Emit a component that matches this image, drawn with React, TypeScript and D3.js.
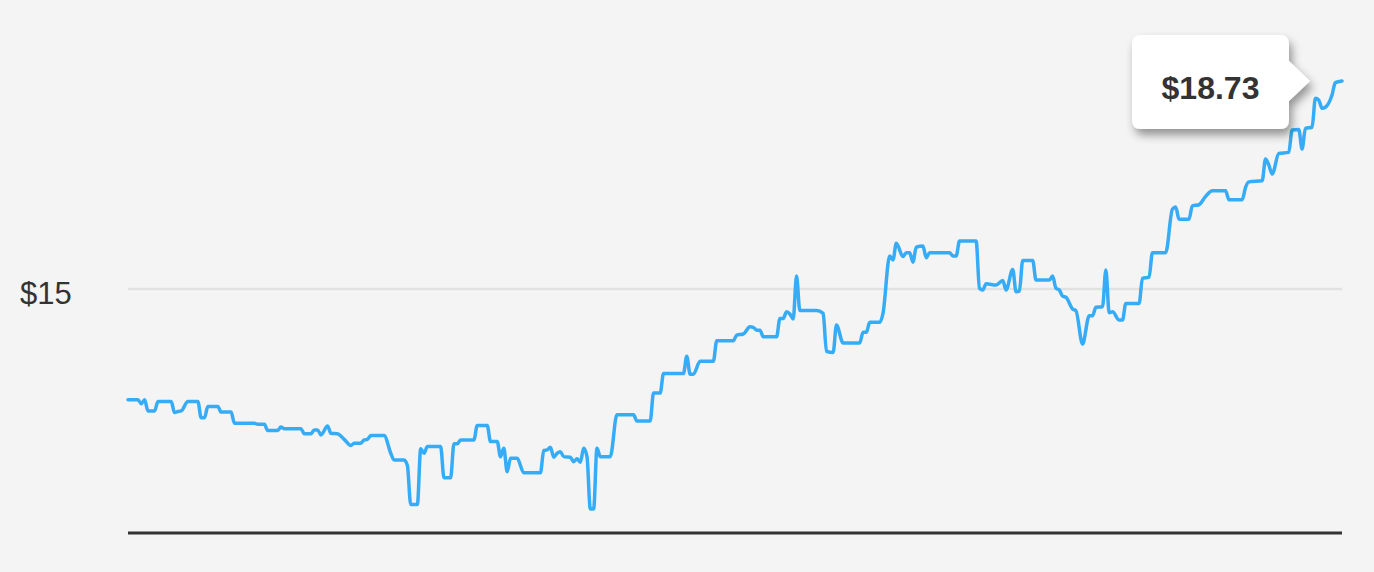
import React, { useEffect } from "react";
import * as d3 from "d3";

// Trading-day index (0..365) and closing price (USD)
const days: number[] = [
  0, 3, 4, 5, 6, 8, 9, 13, 14, 15, 16, 18, 21, 22, 23, 24, 27, 28, 31, 32,
  38, 39, 41, 42, 45, 46, 47, 52, 53, 55, 56, 57, 58, 60, 61, 63, 65, 67, 68, 70,
  71, 72, 73, 77, 79, 80, 83, 84, 85, 87, 88, 89, 90, 94, 95, 97, 98, 99, 100, 104,
  105, 108, 109, 111, 112, 113, 114, 115, 117, 119, 124, 125, 126, 127, 128, 129, 130, 131, 133, 134,
  135, 136, 137, 138, 139, 140, 141, 142, 145, 147, 152, 153, 157, 158, 160, 161, 167, 168, 169, 170,
  172, 176, 177, 182, 183, 185, 187, 188, 189, 190, 191, 195, 196, 197, 198, 199, 200, 201, 202, 207,
  209, 210, 212, 213, 215, 220, 221, 222, 223, 226, 227, 229, 230, 231, 233, 234, 235, 236, 237, 239,
  240, 241, 247, 248, 249, 250, 255, 256, 257, 258, 261, 263, 264, 266, 267, 268, 269, 272, 273, 277,
  278, 279, 280, 281, 282, 284, 285, 287, 289, 290, 291, 293, 294, 295, 296, 298, 299, 300, 304, 305,
  307, 308, 312, 314, 315, 316, 319, 320, 322, 324, 326, 330, 331, 335, 336, 337, 341, 342, 343, 344,
  346, 349, 350, 352, 353, 354, 356, 357, 358, 359, 360, 362, 363, 365,
];

const prices: number[] = [
  13.01, 13.01, 12.94, 13.01, 12.81, 12.81, 12.98, 12.98, 12.78, 12.8, 12.81, 12.98, 12.98, 12.69, 12.69, 12.89, 12.89, 12.79, 12.79, 12.59,
  12.59, 12.57, 12.57, 12.46, 12.46, 12.52, 12.49, 12.49, 12.4, 12.4, 12.47, 12.47, 12.38, 12.54, 12.41, 12.4, 12.3, 12.19, 12.23, 12.23,
  12.29, 12.3, 12.37, 12.37, 12.05, 11.93, 11.93, 11.83, 11.13, 11.13, 12.13, 12.05, 12.17, 12.17, 11.61, 11.61, 12.22, 12.22, 12.29, 12.29,
  12.55, 12.55, 12.26, 12.26, 11.99, 12.14, 11.72, 11.96, 11.96, 11.7, 11.7, 12.1, 12.11, 12.16, 11.98, 12.05, 12.08, 11.99, 11.98, 11.9,
  11.95, 11.89, 12.14, 11.99, 11.05, 11.05, 12.14, 11.99, 11.99, 12.74, 12.74, 12.63, 12.63, 13.13, 13.13, 13.48, 13.48, 13.79, 13.47, 13.47,
  13.7, 13.7, 14.07, 14.07, 14.17, 14.19, 14.32, 14.31, 14.26, 14.26, 14.14, 14.14, 14.47, 14.47, 14.59, 14.55, 14.46, 15.23, 14.61, 14.61,
  14.56, 13.88, 13.86, 14.35, 14.03, 14.03, 14.22, 14.22, 14.4, 14.4, 14.56, 15.59, 15.52, 15.82, 15.58, 15.65, 15.65, 15.48, 15.75, 15.77,
  15.56, 15.65, 15.65, 15.59, 15.59, 15.86, 15.86, 15.01, 14.98, 15.09, 15.07, 15.15, 14.98, 15.35, 14.95, 14.96, 15.51, 15.51, 15.16, 15.16,
  15.23, 15.01, 14.98, 14.87, 14.85, 14.64, 14.61, 14.01, 14.52, 14.52, 14.67, 14.68, 15.34, 14.57, 14.59, 14.44, 14.44, 14.74, 14.74, 15.19,
  15.21, 15.65, 15.65, 16.43, 16.47, 16.25, 16.25, 16.49, 16.51, 16.66, 16.76, 16.76, 16.6, 16.6, 16.82, 16.92, 16.94, 17.33, 17.22, 17.06,
  17.43, 17.45, 17.85, 17.86, 17.51, 17.88, 17.9, 18.42, 18.39, 18.24, 18.26, 18.48, 18.7, 18.73,
];

const gridTicks: number[] = [15];
const yFloor = 10.62;
const dayCount = 365;

const W = 1374;
const H = 572;

export default function App() {
  useEffect(() => {
    document.body.style.margin = "0";
    document.body.style.background = "#f4f4f4";
  }, []);

  const x = d3.scaleLinear().domain([0, dayCount]).range([128, 1342]);
  const y = d3
    .scaleLinear()
    .domain([yFloor, d3.max(prices) as number])
    .range([533, 81]);

  const data = days.map((d, i) => ({ d, p: prices[i] }));
  const line = d3
    .line<{ d: number; p: number }>()
    .x((v) => x(v.d))
    .y((v) => y(v.p))
    .curve(d3.curveMonotoneX);

  const last = data[data.length - 1];
  const tipX = x(last.d) - 32;
  const tipY = y(last.p);
  const boxR = tipX - 21;
  const boxW = 157;
  const boxH = 94;
  const boxL = boxR - boxW;
  const boxT = tipY - 46;
  const fmt = (v: number) => "$" + d3.format(".2f")(v);

  return (
    <svg width={W} height={H} style={{ display: "block" }}>
      <defs>
        <filter id="tipShadow" x="-30%" y="-30%" width="160%" height="170%">
          <feDropShadow dx="3" dy="6" stdDeviation="5" floodColor="#000" floodOpacity="0.4" />
        </filter>
      </defs>
      <rect x={0} y={0} width={W} height={H} fill="#f4f4f4" />
      {gridTicks.map((t) => (
        <g key={t}>
          <line x1={128} x2={1342} y1={y(t)} y2={y(t)} stroke="#e1e1e1" strokeWidth={2.5} />
          <text
            x={20}
            y={y(t) + 15}
            fontFamily="'Liberation Sans', Arial, sans-serif"
            fontSize={31}
            fill="#333"
          >
            {"$" + t}
          </text>
        </g>
      ))}
      <line x1={128} x2={1342} y1={533} y2={533} stroke="#333" strokeWidth={3} />
      <path
        d={line(data) || ""}
        fill="none"
        stroke="#36acf6"
        strokeWidth={3.5}
        strokeLinejoin="round"
        strokeLinecap="round"
      />
      <g filter="url(#tipShadow)">
        <path
          d={[
            `M${boxL + 9},${boxT}`,
            `H${boxR - 9}`,
            `Q${boxR},${boxT} ${boxR},${boxT + 9}`,
            `V${tipY - 20}`,
            `L${tipX},${tipY}`,
            `L${boxR},${tipY + 20}`,
            `V${boxT + boxH - 9}`,
            `Q${boxR},${boxT + boxH} ${boxR - 9},${boxT + boxH}`,
            `H${boxL + 9}`,
            `Q${boxL},${boxT + boxH} ${boxL},${boxT + boxH - 9}`,
            `V${boxT + 9}`,
            `Q${boxL},${boxT} ${boxL + 9},${boxT}`,
            "Z",
          ].join(" ")}
          fill="#ffffff"
        />
      </g>
      <text
        x={(boxL + boxR) / 2}
        y={boxT + 64}
        textAnchor="middle"
        fontFamily="'Liberation Sans', Arial, sans-serif"
        fontWeight="bold"
        fontSize={32}
        fill="#333"
      >
        {fmt(last.p)}
      </text>
    </svg>
  );
}
